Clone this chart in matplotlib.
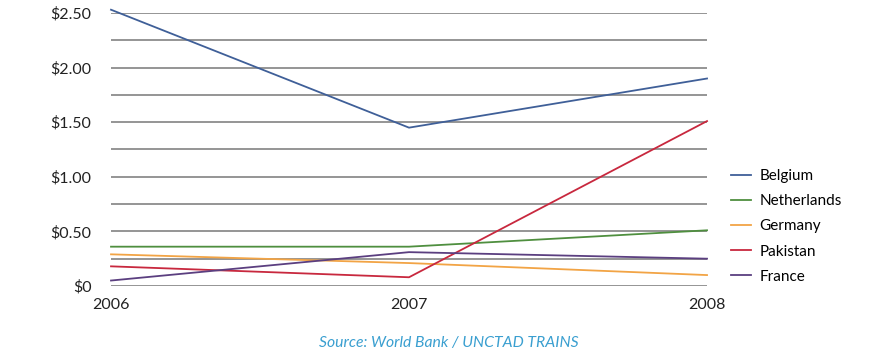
import matplotlib.pyplot as plt
from matplotlib.ticker import FuncFormatter, MultipleLocator

plt.rcParams['font.family'] = ['Lato', 'DejaVu Sans']

years = [2006, 2007, 2008]
belgium = [2.53, 1.45, 1.90]
netherlands = [0.36, 0.36, 0.51]
germany = [0.29, 0.21, 0.10]
pakistan = [0.18, 0.08, 1.51]
france = [0.05, 0.31, 0.25]

series = [
    ("Belgium", belgium, "#3f5f98"),
    ("Netherlands", netherlands, "#4f8f3f"),
    ("Germany", germany, "#f2a445"),
    ("Pakistan", pakistan, "#c8283e"),
    ("France", france, "#5b3f80"),
]

fig = plt.figure(figsize=(8.86, 3.57), dpi=100)
ax = fig.add_axes([0.1253, 0.1989, 0.798 - 0.1253, 0.9636 - 0.1989])

# Gridlines every 0.25, labels only every 0.50
ax.yaxis.set_major_locator(MultipleLocator(0.25))
def money(v, pos):
    if abs(v * 2 - round(v * 2)) > 1e-6:
        return ""
    if abs(v) < 1e-9:
        return "$0"
    return "${:.2f}".format(v)
ax.yaxis.set_major_formatter(FuncFormatter(money))
ax.grid(axis="y", color="#8c8c8c", linewidth=1.3)
ax.set_axisbelow(True)

for name, vals, col in series:
    ax.plot(years, vals, color=col, linewidth=1.3, label=name, clip_on=False)

ax.set_xlim(2006, 2008)
ax.set_ylim(0, 2.5)
ax.set_xticks(years)
ax.set_xticklabels([str(y) for y in years])
for s in ax.spines.values():
    s.set_visible(False)
ax.tick_params(axis="both", length=0, labelsize=11.5, colors="#222222")
ax.tick_params(axis="y", pad=14)
ax.tick_params(axis="x", pad=9)

leg = ax.legend(loc="upper left", bbox_to_anchor=(1.04, 0.428), frameon=False,
                fontsize=11, handlelength=1.3, handletextpad=0.55,
                labelspacing=0.73, borderaxespad=0, borderpad=0)

fig.text(0.507, 0.04, "Source: World Bank / UNCTAD TRAINS", ha="center",
         va="center", fontsize=11.3, style="italic", color="#3a9fd0")

plt.savefig("out.png", dpi=100)
